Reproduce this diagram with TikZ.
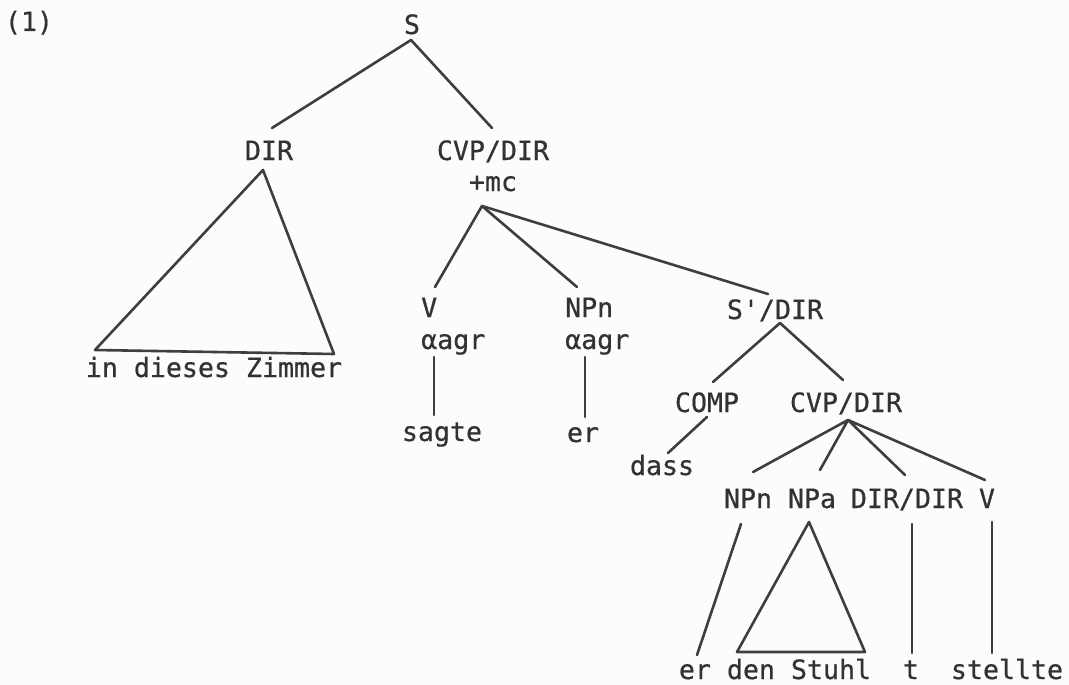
\documentclass[tikz,border=0pt]{standalone}
\usepackage{fontspec}
\setmonofont[AutoFakeBold=0.6]{DejaVu Sans Mono}
\definecolor{txt}{RGB}{50,50,50}
\definecolor{ln}{RGB}{62,62,62}
\definecolor{bg}{RGB}{253,252,250}
\newcommand\labfont{\ttfamily\bfseries\fontsize{26.6}{30}\selectfont}
\begin{document}
\begin{tikzpicture}[x=1pt,y=-1pt,
  lab/.style={font=\labfont, text=txt, inner sep=0pt, anchor=base},
  labw/.style={lab, anchor=base west},
  edge/.style={draw=ln, line width=2.6pt, line cap=round, line join=round}]
\fill[bg] (0,0) rectangle (1069,685);
\useasboundingbox (0,0) rectangle (1069,685);

% labels
\node[lab] (ex) at (29,31) {(1)};
\node[lab] (S) at (412,34) {S};
\node[lab] (DIR) at (269,160) {DIR};
\node[lab] (CVP) at (493,160) {CVP/DIR};
\node[lab] (mc) at (493,191) {+mc};
\node[lab] (Zim) at (214,377) {in dieses Zimmer};
\node[labw] (V) at (421,317) {V};
\node[labw] (Vagr) at (421,349) {αagr};
\node[lab] (sagte) at (442,441) {sagte};
\node[labw] (NPn) at (565,317) {NPn};
\node[labw] (Nagr) at (565,349) {αagr};
\node[lab] (er) at (583,442) {er};
\node[lab] (SDIR) at (775,319) {S'/DIR};
\node[lab] (COMP) at (707,412) {COMP};
\node[lab] (CVPb) at (846,412) {CVP/DIR};
\node[lab] (dass) at (662,475) {dass};
\node[lab] (NPn2) at (748,508) {NPn};
\node[lab] (NPa) at (812,508) {NPa};
\node[lab] (DD) at (907,508) {DIR/DIR};
\node[lab] (V2) at (987,508) {V};
\node[lab] (Stuhl) at (775,679) {er den Stuhl};
\node[lab] (t) at (911,679) {t};
\node[lab] (stellte) at (1007,679) {stellte};

% connector end points
\coordinate (S-b) at (411,40);
\coordinate (DIR-t) at (272,128);
\coordinate (CVP-t) at (492,128);
\coordinate (DIR-b) at (263,170);
\coordinate (Zim-l) at (95,350);
\coordinate (Zim-r) at (334,354);
\coordinate (mc-b) at (482,206);
\coordinate (V-t) at (435,287);
\coordinate (NPn-t) at (577,287);
\coordinate (SDIR-t) at (768,294);
\coordinate (Vagr-b) at (434,357);
\coordinate (sagte-t) at (434,415);
\coordinate (Nagr-b) at (585,357);
\coordinate (er-t) at (585,417);
\coordinate (SDIR-b) at (780,323);
\coordinate (COMP-t) at (713,382);
\coordinate (CVPb-t) at (843,380);
\coordinate (COMP-b) at (707,417);
\coordinate (dass-t) at (668,453);
\coordinate (CVPb-b) at (848,420);
\coordinate (NPn2-t) at (753,472);
\coordinate (NPa-t) at (820,470);
\coordinate (DD-t) at (905,475);
\coordinate (V2-t) at (985,480);
\coordinate (NPn2-b) at (741,524);
\coordinate (er2-t) at (697,655);
\coordinate (NPa-b) at (809,522);
\coordinate (Stuhl-l) at (737,652);
\coordinate (Stuhl-r) at (865,652);
\coordinate (DD-b) at (912,524);
\coordinate (t-t) at (912,653);
\coordinate (V2-b) at (992,522);
\coordinate (stellte-t) at (992,653);

% connectors
\draw[edge] (DIR-t) -- (S-b) -- (CVP-t);
\draw[edge] (DIR-b) -- (Zim-l) -- (Zim-r) -- cycle;
\draw[edge] (V-t) -- (mc-b) -- (NPn-t);
\draw[edge] (mc-b) -- (SDIR-t);
\draw[edge] (Vagr-b) -- (sagte-t);
\draw[edge] (Nagr-b) -- (er-t);
\draw[edge] (COMP-t) -- (SDIR-b) -- (CVPb-t);
\draw[edge] (COMP-b) -- (dass-t);
\draw[edge] (NPn2-t) -- (CVPb-b) -- (NPa-t);
\draw[edge] (DD-t) -- (CVPb-b) -- (V2-t);
\draw[edge] (NPn2-b) -- (er2-t);
\draw[edge] (NPa-b) -- (Stuhl-l) -- (Stuhl-r) -- cycle;
\draw[edge] (DD-b) -- (t-t);
\draw[edge] (V2-b) -- (stellte-t);
\end{tikzpicture}
\end{document}
